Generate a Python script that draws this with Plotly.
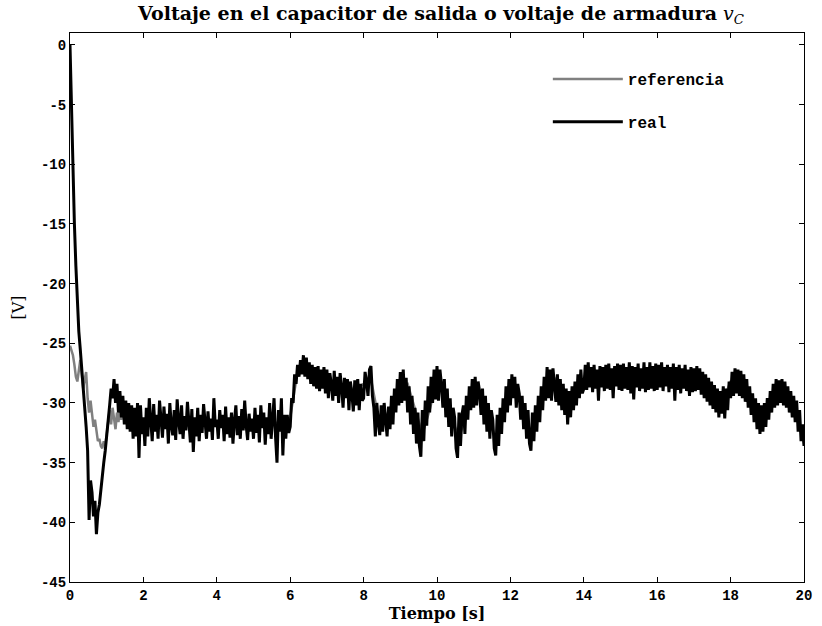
import numpy as np
import plotly.graph_objects as go

# Sampling step of the measured armature voltage (s)
dt_real = 0.04

# Measured capacitor voltage v_C [V], one row per second (25 samples/row), last value at t = 20 s
real_v = [
    0.0, -6.0, -11.5, -15.0, -18.5, -21.5, -24.0, -25.5, -27.0, -28.5, -30.0, -32.0, -34.0, -39.8, -36.5, -37.5, -39.5, -38.2, -41.0, -39.2, -38.5, -37.2, -36.0, -35.0, -34.0,
    -32.5, -31.0, -30.2, -28.8, -29.6, -28.0, -30.0, -28.4, -30.8, -29.0, -31.2, -29.4, -31.8, -29.8, -32.2, -30.0, -32.4, -30.2, -33.0, -30.4, -32.8, -30.0, -34.6, -30.2, -32.6,
    -31.2, -33.6, -30.4, -32.8, -29.6, -31.8, -33.2, -30.1, -32.4, -31.0, -33.0, -29.8, -31.6, -32.9, -30.3, -32.2, -30.9, -33.4, -30.0, -31.9, -32.7, -30.6, -33.1, -29.7, -31.5,
    -32.6, -30.2, -33.0, -31.1, -32.3, -29.9, -31.7, -33.3, -30.5, -34.1, -31.2, -32.8, -30.4, -33.2, -31.0, -32.5, -30.1, -31.9, -33.0, -30.7, -32.4, -31.3, -33.1, -29.6, -32.0,
    -31.4, -33.0, -30.6, -32.1, -31.0, -33.2, -30.3, -32.6, -31.2, -32.9, -30.8, -33.4, -31.5, -30.2, -32.7, -31.1, -33.0, -30.5, -32.3, -29.8, -31.9, -33.1, -30.9, -32.4, -31.3,
    -33.0, -30.4, -32.5, -31.0, -33.3, -30.2, -32.1, -30.8, -33.5, -31.2, -32.6, -30.0, -33.0, -31.4, -29.6, -32.8, -35.0, -30.6, -32.4, -29.6, -34.4, -31.0, -33.0, -31.0, -32.5,
    -32.0, -29.6, -30.0, -27.6, -28.4, -26.8, -27.8, -26.4, -27.6, -26.0, -27.8, -26.2, -28.0, -26.6, -28.4, -26.8, -28.6, -27.0, -28.8, -26.9, -29.0, -27.2, -28.8, -27.0, -29.2,
    -27.2, -29.6, -27.5, -28.4, -29.8, -27.3, -29.4, -27.8, -30.0, -27.5, -28.6, -30.4, -27.9, -29.6, -28.0, -30.6, -28.2, -29.2, -30.7, -28.1, -30.2, -28.0, -30.6, -28.4, -29.8,
    -29.6, -27.4, -28.2, -29.4, -27.2, -26.9, -29.4, -30.4, -32.8, -30.0, -31.6, -32.7, -30.2, -32.4, -30.0, -31.2, -32.8, -30.3, -32.2, -29.4, -31.8, -28.8, -30.8, -28.0, -30.2,
    -27.4, -30.0, -27.2, -29.8, -27.9, -30.8, -28.6, -31.8, -29.4, -32.6, -30.4, -33.4, -30.8, -33.6, -34.5, -30.6, -33.2, -29.8, -31.9, -28.6, -30.8, -27.8, -30.0, -27.2, -29.7,
    -26.9, -29.8, -27.2, -28.4, -30.4, -28.0, -31.2, -28.8, -32.0, -29.6, -32.8, -30.4, -31.2, -33.8, -34.6, -30.8, -33.6, -31.0, -30.2, -32.6, -29.4, -31.4, -28.6, -30.6, -28.0,
    -30.4, -27.8, -30.2, -28.2, -29.0, -31.0, -28.8, -31.8, -29.4, -32.4, -30.0, -33.0, -30.6, -31.4, -33.8, -34.4, -31.0, -33.6, -30.4, -32.6, -29.6, -31.6, -28.6, -30.8, -28.0,
    -30.2, -27.6, -29.6, -27.8, -30.4, -28.4, -29.2, -31.4, -29.4, -32.2, -30.0, -33.0, -30.6, -33.4, -34.0, -30.8, -33.2, -30.2, -32.4, -29.4, -31.6, -28.6, -30.6, -27.8, -29.8,
    -27.0, -29.6, -27.2, -29.8, -27.1, -28.4, -29.9, -27.6, -30.2, -28.0, -30.6, -28.4, -31.0, -28.8, -31.8, -29.0, -31.2, -28.6, -30.6, -28.2, -30.2, -27.6, -29.6, -27.2, -29.2,
    -28.8, -26.8, -28.9, -26.6, -28.7, -27.0, -29.1, -26.8, -28.8, -27.2, -29.8, -26.9, -28.7, -27.0, -29.0, -26.8, -28.8, -26.7, -28.9, -27.1, -29.6, -26.9, -28.6, -26.7, -28.9,
    -26.8, -29.0, -26.7, -28.8, -27.0, -28.9, -26.6, -29.2, -26.9, -29.7, -27.0, -28.7, -26.7, -29.0, -27.1, -28.8, -26.6, -29.1, -27.0, -28.9, -26.6, -28.8, -26.9, -29.0, -26.7,
    -28.9, -26.8, -28.7, -26.6, -29.0, -27.0, -28.6, -26.8, -29.1, -27.0, -28.8, -26.7, -29.8, -27.0, -28.9, -26.8, -29.2, -27.1, -28.8, -26.8, -29.0, -27.2, -29.4, -27.0, -29.1,
    -27.1, -29.0, -26.9, -28.9, -27.1, -29.3, -27.4, -29.6, -27.6, -29.9, -27.9, -30.2, -28.2, -30.5, -28.5, -30.8, -28.8, -31.2, -29.0, -30.9, -28.6, -31.3, -28.8, -30.6, -28.2,
    -29.6, -27.4, -29.4, -27.1, -29.2, -27.2, -29.4, -27.3, -29.6, -27.6, -29.9, -28.0, -30.4, -28.6, -31.0, -29.2, -31.6, -29.6, -32.2, -30.0, -32.6, -30.2, -32.4, -30.0, -32.0,
    -29.6, -31.4, -29.0, -30.8, -28.4, -30.4, -28.0, -30.2, -28.1, -30.0, -28.0, -30.2, -28.2, -30.4, -28.6, -30.8, -29.0, -31.2, -29.4, -31.6, -29.8, -32.4, -30.6, -33.2, -31.8,
    -33.6,
]
real_t = [round(i * dt_real, 2) for i in range(len(real_v))]

# Reference voltage: finely sampled start-up, then coarser samples
ref_t = [
    0.00, 0.04, 0.08, 0.12, 0.16, 0.20, 0.24, 0.28, 0.32, 0.36, 0.40, 0.44, 0.48, 0.52, 0.56, 0.60,
    0.64, 0.68, 0.72, 0.76, 0.80, 0.84, 0.88, 0.92, 0.96, 1.00, 1.04, 1.08, 1.12, 1.16, 1.20, 1.24,
    1.28, 1.32, 1.36, 1.40, 1.44, 1.48, 1.52, 1.56, 1.60,
    1.8, 2.0, 2.2, 2.4, 2.6, 2.8, 3.0, 3.2, 3.4, 3.6, 3.8, 4.0, 4.2, 4.4, 4.6, 4.8, 5.0, 5.2, 5.4,
    5.6, 5.8, 6.0, 6.2, 6.4, 6.6, 6.8, 7.0, 7.2, 7.4, 7.6, 7.8, 8.0, 8.2, 8.4, 8.6, 8.8, 9.0, 9.2,
    9.4, 9.6, 9.8, 10.0, 10.2, 10.4, 10.6, 10.8, 11.0, 11.2, 11.4, 11.6, 11.8, 12.0, 12.2, 12.4,
    12.6, 12.8, 13.0, 13.2, 13.4, 13.6, 13.8, 14.0, 14.2, 14.4, 14.6, 14.8, 15.0, 15.2, 15.4, 15.6,
    15.8, 16.0, 16.2, 16.4, 16.6, 16.8, 17.0, 17.2, 17.4, 17.6, 17.8, 18.0, 18.2, 18.4, 18.6, 18.8,
    19.0, 19.2, 19.4, 19.6, 19.8, 20.0,
]
ref_v = [
    -25.2, -25.6, -26.0, -26.8, -27.8, -28.2, -27.0, -26.4, -27.6, -28.8, -28.0, -27.4, -29.6, -30.8, -29.8, -31.2,
    -32.0, -31.4, -32.6, -33.2, -33.0, -33.6, -33.8, -33.2, -33.6, -32.8, -31.6, -30.6, -31.8, -30.4, -31.2, -32.2,
    -30.8, -31.6, -30.6, -31.4, -30.8, -31.2, -30.6, -31.4, -31.0,
    -31.4, -31.6, -31.5, -31.6, -31.7, -31.6, -31.5, -31.6, -31.7, -31.5, -31.6, -31.7, -31.6, -31.5, -31.6, -31.7, -31.6, -31.5, -31.6,
    -31.7, -31.5, -31.2, -27.4, -26.8, -27.6, -27.9, -28.1, -28.3, -28.5, -28.8, -28.8, -28.4, -28.0, -31.2, -31.2, -30.0, -28.6, -28.4,
    -30.6, -32.6, -30.6, -28.0, -29.0, -31.2, -33.0, -30.8, -28.6, -29.6, -31.2, -33.0, -31.0, -28.6, -28.8, -31.4,
    -32.6, -30.4, -27.9, -27.9, -28.9, -30.6, -29.0, -28.0, -27.6, -27.8, -27.8, -27.7, -27.8, -27.8, -27.7, -27.8,
    -27.8, -27.7, -27.8, -27.8, -27.7, -27.8, -27.8, -27.9, -28.9, -29.6, -29.8, -28.2, -27.9, -28.4, -29.6, -31.4,
    -30.6, -29.4, -28.7, -29.4, -30.8, -33.4,
]

# Axis ticks and their labels
x_ticks = [0, 2, 4, 6, 8, 10, 12, 14, 16, 18, 20]
x_labels = ["0", "2", "4", "6", "8", "10", "12", "14", "16", "18", "20"]
y_ticks = [0, -5, -10, -15, -20, -25, -30, -35, -40, -45]
y_labels = ["0", "-5", "-10", "-15", "-20", "-25", "-30", "-35", "-40", "-45"]

mono = "Liberation Mono"
serif = "DejaVu Serif"

fig = go.Figure()
fig.add_trace(go.Scatter(
    x=ref_t, y=ref_v, mode="lines", name="referencia",
    line=dict(color="#808080", width=2.5), legendgroup="a",
))
fig.add_trace(go.Scatter(
    x=real_t, y=real_v, mode="lines", name="real",
    line=dict(color="#000000", width=3), legendgroup="b",
))

axis_common = dict(
    showline=True, linecolor="black", linewidth=1, mirror="ticks",
    ticks="inside", ticklen=5, tickcolor="black", showgrid=False, zeroline=False,
    tickfont=dict(family=mono, size=14, color="black", weight="bold"),
)

fig.update_layout(
    width=822, height=626,
    margin=dict(l=70, r=10, t=33, b=44),
    paper_bgcolor="white", plot_bgcolor="white",
    title=dict(
        text="<b>Voltaje en el capacitor de salida o voltaje de armadura</b> <i>v</i><sub><i>C</i></sub>",
        x=0.5365, xanchor="center", y=0.979, yanchor="middle",
        font=dict(family=serif, size=19, color="black"),
    ),
    xaxis=dict(
        range=[0, 20], tickvals=x_ticks, ticktext=x_labels,
        title=dict(text="<b>Tiempo [s]</b>", font=dict(family=serif, size=16, color="black"), standoff=0),
        **axis_common,
    ),
    yaxis=dict(
        range=[-45, 1], tickvals=y_ticks, ticktext=y_labels,
        title=dict(text="[V]", font=dict(family=serif, size=16, color="black"), standoff=12),
        **axis_common,
    ),
    legend=dict(
        x=0.651, y=0.947, xanchor="left", yanchor="top",
        bgcolor="rgba(255,255,255,0)", borderwidth=0,
        font=dict(family=mono, size=16, color="black", weight="bold"),
        traceorder="grouped", tracegroupgap=19, itemwidth=70,
    ),
    showlegend=True,
)

fig.write_html("out.html")
